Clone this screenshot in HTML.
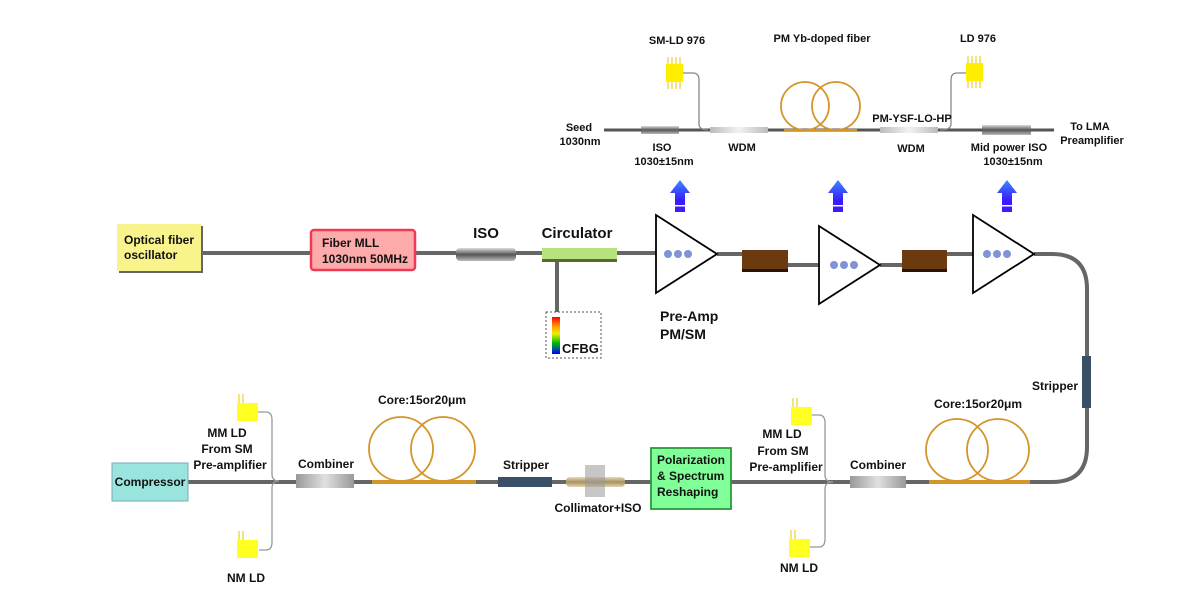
<!DOCTYPE html>
<html><head><meta charset="utf-8"><style>
html,body{margin:0;padding:0;background:#fff;}
svg{display:block;font-family:"Liberation Sans","Noto Sans CJK SC",sans-serif;font-weight:bold;}
</style></head><body>
<svg width="1200" height="600" viewBox="0 0 1200 600" xmlns="http://www.w3.org/2000/svg">
<defs>
<linearGradient id="iso" x1="0" y1="0" x2="0" y2="1"><stop offset="0" stop-color="#ddd"/><stop offset="0.5" stop-color="#555"/><stop offset="1" stop-color="#bbb"/></linearGradient>
<linearGradient id="wdm" x1="0" y1="0" x2="1" y2="0"><stop offset="0" stop-color="#bbb"/><stop offset="0.5" stop-color="#f2f2f2"/><stop offset="1" stop-color="#bbb"/></linearGradient>
<linearGradient id="comb" x1="0" y1="0" x2="1" y2="0"><stop offset="0" stop-color="#999"/><stop offset="0.5" stop-color="#e0e0e0"/><stop offset="1" stop-color="#999"/></linearGradient>
<linearGradient id="rainbow" x1="0" y1="0" x2="0" y2="1"><stop offset="0" stop-color="#f00"/><stop offset="0.25" stop-color="#f90"/><stop offset="0.45" stop-color="#ee0"/><stop offset="0.7" stop-color="#0b0"/><stop offset="1" stop-color="#00f"/></linearGradient>
<linearGradient id="arrow" x1="0" y1="0" x2="0" y2="1"><stop offset="0" stop-color="#3a8cff"/><stop offset="1" stop-color="#3a1cff"/></linearGradient>
<linearGradient id="col" x1="0" y1="0" x2="0" y2="1"><stop offset="0" stop-color="#e8dcb8"/><stop offset="0.5" stop-color="#a89060"/><stop offset="1" stop-color="#e0d4b0"/></linearGradient>
<g id="ld8"><rect x="0" y="0" width="17" height="18" fill="#ffee00"/><g stroke="#e6c800" stroke-width="1"><line x1="2" y1="-7" x2="2" y2="0"/><line x1="6" y1="-7" x2="6" y2="0"/><line x1="10" y1="-7" x2="10" y2="0"/><line x1="14" y1="-7" x2="14" y2="0"/><line x1="2" y1="18" x2="2" y2="25"/><line x1="6" y1="18" x2="6" y2="25"/><line x1="10" y1="18" x2="10" y2="25"/><line x1="14" y1="18" x2="14" y2="25"/></g></g>
<g id="ld2"><rect x="0" y="0" width="21" height="18" fill="#ffff22"/><g stroke="#e6c800" stroke-width="1"><line x1="2" y1="-9" x2="2" y2="0"/><line x1="6" y1="-9" x2="6" y2="0"/></g></g>
<g id="bar"><polygon points="0,0 -10,13 -5,13 -5,20 5,20 5,13 10,13" fill="url(#arrow)"/><rect x="-5" y="20" width="10" height="9" fill="#3a1cff"/><rect x="-5" y="25" width="10" height="1.5" fill="#fff"/><rect x="-5" y="29" width="10" height="3" fill="#3a1cff"/></g>
</defs>

<!-- TOP DETAIL -->
<g fill="none">
<line x1="604" y1="130" x2="1054" y2="130" stroke="#555" stroke-width="3"/>
<line x1="784" y1="130" x2="857" y2="130" stroke="#d4952a" stroke-width="2"/>
<circle cx="805" cy="106" r="24" stroke="#d4952a" stroke-width="1.8"/>
<circle cx="836" cy="106" r="24" stroke="#d4952a" stroke-width="1.8"/>
<path d="M683 73 H693 Q699 73 699 80 V124 Q699 130 708 130" stroke="#888" stroke-width="1.3"/>
<path d="M966 73 H957 Q951 73 951 80 V124 Q951 130 940 130" stroke="#888" stroke-width="1.3"/>
</g>
<rect x="641" y="126" width="38" height="8" fill="url(#iso)"/>
<rect x="710" y="127" width="58" height="6" fill="url(#wdm)"/>
<rect x="880" y="127" width="58" height="6" fill="url(#wdm)"/>
<rect x="982" y="125" width="49" height="10" fill="url(#iso)"/>
<use href="#ld8" x="666" y="64"/>
<use href="#ld8" x="966" y="63"/>
<g font-size="11" fill="#111" text-anchor="middle">
<text x="677" y="44">SM-LD 976</text>
<text x="822" y="42">PM Yb-doped fiber</text>
<text x="978" y="42">LD 976</text>
<text x="579" y="131">Seed</text><text x="580" y="145">1030nm</text>
<text x="662" y="151">ISO</text><text x="664" y="165">1030±15nm</text>
<text x="742" y="151">WDM</text>
<text x="912" y="122">PM-YSF-LO-HP</text>
<text x="911" y="152">WDM</text>
<text x="1009" y="151">Mid power ISO</text><text x="1013" y="165">1030±15nm</text>
<text x="1090" y="130">To LMA</text><text x="1092" y="144">Preamplifier</text>
</g>
<use href="#bar" x="680" y="180"/>
<use href="#bar" x="838" y="180"/>
<use href="#bar" x="1007" y="180"/>

<!-- MIDDLE ROW -->
<g stroke="#666" stroke-width="4" fill="none">
<line x1="201" y1="253" x2="656" y2="253"/>
<line x1="717" y1="254" x2="742" y2="254"/>
<line x1="788" y1="265" x2="819" y2="265"/>
<line x1="880" y1="265" x2="902" y2="265"/>
<line x1="947" y1="254" x2="973" y2="254"/>
<path d="M1034 254 H1052 Q1087 254 1087 289 V447 Q1087 482 1052 482 H187"/>
<line x1="557" y1="262" x2="557" y2="312"/>
</g>
<rect x="119" y="226" width="84" height="47" fill="#666"/>
<rect x="117" y="224" width="84" height="47" fill="#f8f38a"/>
<text x="124" y="244" font-size="12" fill="#111">Optical fiber</text>
<text x="124" y="259" font-size="12" fill="#111">oscillator</text>
<rect x="311" y="230" width="104" height="40" rx="3" fill="#fdaaaa" stroke="#f03a55" stroke-width="2.5"/>
<text x="322" y="247" font-size="12" fill="#111">Fiber MLL</text>
<text x="322" y="263" font-size="12" fill="#111">1030nm 50MHz</text>
<rect x="456" y="248" width="60" height="13" rx="4" fill="url(#iso)"/>
<text x="486" y="238" font-size="15" fill="#111" text-anchor="middle">ISO</text>
<rect x="542" y="248" width="75" height="13" fill="#b6e37d"/>
<rect x="542" y="259" width="75" height="3" fill="#556a30"/>
<text x="577" y="238" font-size="15" fill="#111" text-anchor="middle">Circulator</text>
<rect x="546" y="312" width="55" height="46" fill="none" stroke="#555" stroke-width="1" stroke-dasharray="2,2"/>
<rect x="552" y="317" width="8" height="37" fill="url(#rainbow)"/>
<text x="562" y="353" font-size="13" fill="#111">CFBG</text>

<g fill="#fff" stroke="#000" stroke-width="1.8">
<polygon points="656,215 656,293 717,254"/>
<polygon points="819,226 819,304 880,265"/>
<polygon points="973,215 973,293 1034,254"/>
</g>
<g fill="#7f93d6">
<circle cx="668" cy="254" r="4"/><circle cx="678" cy="254" r="4"/><circle cx="688" cy="254" r="4"/>
<circle cx="834" cy="265" r="4"/><circle cx="844" cy="265" r="4"/><circle cx="854" cy="265" r="4"/>
<circle cx="987" cy="254" r="4"/><circle cx="997" cy="254" r="4"/><circle cx="1007" cy="254" r="4"/>
</g>
<rect x="742" y="250" width="46" height="22" fill="#6b3a0e"/><rect x="742" y="269" width="46" height="3" fill="#2a1505"/>
<rect x="902" y="250" width="45" height="22" fill="#6b3a0e"/><rect x="902" y="269" width="45" height="3" fill="#2a1505"/>
<text x="660" y="321" font-size="14" fill="#111">Pre-Amp</text>
<text x="660" y="339" font-size="14" fill="#111">PM/SM</text>

<rect x="1082" y="356" width="9" height="52" fill="#3a5068"/>
<text x="1078" y="390" font-size="12" fill="#111" text-anchor="end">Stripper</text>

<!-- BOTTOM ROW -->
<line x1="929" y1="482" x2="1030" y2="482" stroke="#d4952a" stroke-width="4"/>
<circle cx="957" cy="450" r="31" fill="none" stroke="#d4952a" stroke-width="1.8"/>
<circle cx="998" cy="450" r="31" fill="none" stroke="#d4952a" stroke-width="1.8"/>
<rect x="850" y="476" width="56" height="12" fill="url(#comb)"/>
<line x1="372" y1="482" x2="476" y2="482" stroke="#d4952a" stroke-width="4"/>
<circle cx="401" cy="449" r="32" fill="none" stroke="#d4952a" stroke-width="1.8"/>
<circle cx="443" cy="449" r="32" fill="none" stroke="#d4952a" stroke-width="1.8"/>
<rect x="296" y="474" width="58" height="14" fill="url(#comb)"/>
<rect x="498" y="477" width="54" height="10" fill="#3a5068"/>
<rect x="566" y="477" width="59" height="10" rx="4" fill="url(#col)"/>
<rect x="585" y="465" width="20" height="32" fill="#999" opacity="0.55"/>

<g fill="none" stroke="#999" stroke-width="1.3">
<path d="M257 412 H266 Q272 412 272 420 V474 Q272 481 279 481"/>
<path d="M259 550 H266 Q272 550 272 542 V488 Q272 481 279 481"/>
<path d="M812 415 H819 Q825 415 825 423 V475 Q825 482 833 482"/>
<path d="M810 547 H819 Q825 547 825 539 V489 Q825 482 833 482"/>
</g>
<use href="#ld2" x="237" y="403"/>
<use href="#ld2" x="237" y="540"/>
<use href="#ld2" x="791" y="407"/>
<use href="#ld2" x="789" y="539"/>

<rect x="112" y="463" width="76" height="38" fill="#99e5dd" stroke="#7ab" stroke-width="1"/>
<text x="150" y="486" font-size="12" fill="#111" text-anchor="middle">Compressor</text>
<rect x="651" y="448" width="80" height="61" fill="#80ff99" stroke="#2a9a3a" stroke-width="1.8"/>
<g font-size="12" fill="#111">
<text x="657" y="464">Polarization</text>
<text x="657" y="480">&amp; Spectrum</text>
<text x="657" y="496">Reshaping</text>
</g>
<g font-size="12" fill="#111" text-anchor="middle">
<text x="227" y="437">MM LD</text><text x="227" y="453">From SM</text><text x="230" y="469">Pre-amplifier</text>
<text x="246" y="582">NM LD</text>
<text x="326" y="468">Combiner</text>
<text x="422" y="404">Core:15or20μm</text>
<text x="526" y="469">Stripper</text>
<text x="598" y="512">Collimator+ISO</text>
<text x="782" y="438">MM LD</text><text x="783" y="455">From SM</text><text x="786" y="471">Pre-amplifier</text>
<text x="799" y="572">NM LD</text>
<text x="878" y="469">Combiner</text>
<text x="978" y="408">Core:15or20μm</text>
</g>
</svg>
</body></html>
